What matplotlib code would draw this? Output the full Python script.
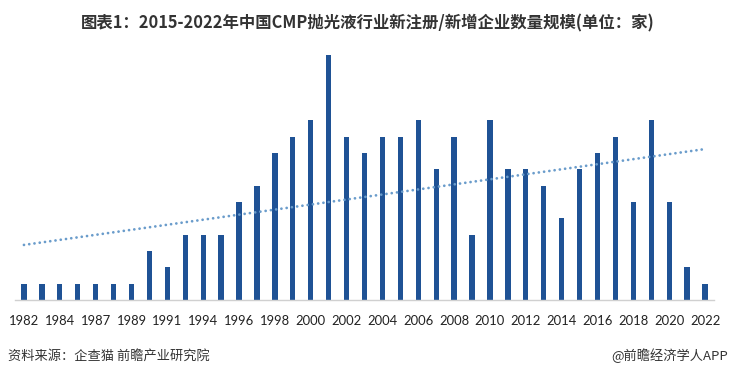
import matplotlib
matplotlib.use("Agg")
import matplotlib.pyplot as plt
import numpy as np

plt.rcParams['font.family'] = ['Noto Sans CJK SC', 'DejaVu Sans']

years = ["1982", "1983", "1984", "1986", "1987", "1988", "1989", "1990", "1991", "1993",
         "1994", "1995", "1996", "1997", "1998", "1999", "2000", "2001", "2002", "2003",
         "2004", "2005", "2006", "2007", "2008", "2009", "2010", "2011", "2012", "2013",
         "2014", "2015", "2016", "2017", "2018", "2019", "2020", "2021", "2022"]
counts = [1, 1, 1, 1, 1, 1, 1, 3, 2, 4,
          4, 4, 6, 7, 9, 10, 11, 15, 10, 9,
          10, 10, 11, 8, 10, 4, 11, 8, 8, 7,
          5, 8, 9, 10, 6, 11, 6, 2, 1]

title = "图表1：2015-2022年中国CMP抛光液行业新注册/新增企业数量规模(单位：家)"
source = "资料来源：企查猫 前瞻产业研究院"
credit = "@前瞻经济学人APP"

fig = plt.figure(figsize=(7.35, 3.78), dpi=100)
ax = fig.add_axes([15/735, 78/378, 699/735, (300-38.7)/378])

x = np.arange(len(years))
ax.bar(x, counts, width=0.3, color="#1F5295", zorder=2)

coef = np.polyfit(x, counts, 1)
ax.plot(x, np.polyval(coef, x), linestyle=(0, (0.01, 1.9)), color="#6A9CCB",
        linewidth=2.0, dash_capstyle='round', solid_capstyle='round', zorder=3)

ax.set_xlim(-0.5, len(years) - 0.5)
ax.set_ylim(0, 16)
ax.set_xticks(x[::2])
ax.set_xticklabels(years[::2], fontsize=9.4, family=['Lato', 'DejaVu Sans'], color="#222222")
ax.tick_params(axis='x', length=0, pad=10.5)
ax.set_yticks([])
for s in ['top', 'right', 'left']:
    ax.spines[s].set_visible(False)
ax.spines['bottom'].set_color("#D0D0D0")
ax.spines['bottom'].set_linewidth(1)

fig.text(0.5, 1 - 23/378, title, ha='center', va='center', fontsize=11.8,
         fontweight='bold', color="#333333")
fig.text(8/735, 1 - 356/378, source, ha='left', va='center', fontsize=9.5, color="#333333")
fig.text(728/735, 1 - 356/378, credit, ha='right', va='center', fontsize=9.5, color="#333333")

fig.savefig("out.png", dpi=100, facecolor="white")
